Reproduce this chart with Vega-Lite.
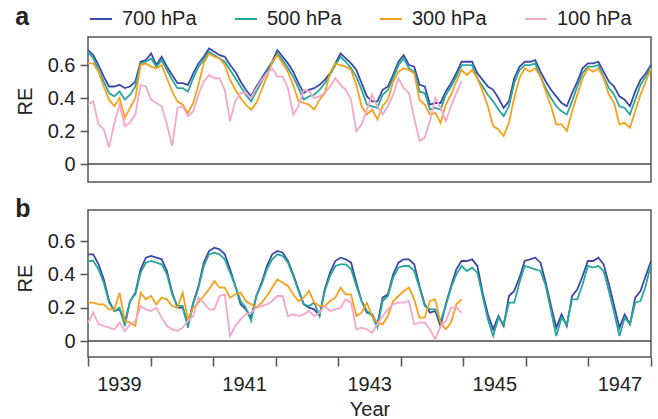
{
"$schema":"https://vega.github.io/schema/vega-lite/v6.json",
"background":"white",
"padding":{"left":14,"top":4,"right":6,"bottom":0},
"config":{
 "font":"Liberation Sans",
 "view":{"stroke":"#555","strokeWidth":1.5},
 "axis":{"labelFont":"Liberation Sans","labelFontSize":20,"labelColor":"#222","titleFont":"Liberation Sans","titleFontSize":20,"titleFontWeight":"normal","titleColor":"#222","tickColor":"#555","tickWidth":1.5,"tickSize":8,"domain":false,"grid":false},
 "legend":{"orient":"none","legendX":1,"legendY":-30,"direction":"horizontal","symbolType":"stroke","symbolSize":484,"symbolStrokeWidth":2,"labelFont":"Liberation Sans","labelFontSize":20,"labelColor":"#222","columnPadding":34,"labelOffset":9,"padding":0},
 "title":{"font":"Liberation Sans","fontSize":25,"fontWeight":"bold","color":"#222","anchor":"start","frame":"bounds","baseline":"alphabetic","offset":0}
},
"datasets":{
"a700":[{"m":0,"v":0.69},{"m":1,"v":0.66},{"m":2,"v":0.60},{"m":3,"v":0.53},{"m":4,"v":0.47},{"m":5,"v":0.47},{"m":6,"v":0.48},{"m":7,"v":0.46},{"m":8,"v":0.47},{"m":9,"v":0.50},{"m":10,"v":0.62},{"m":11,"v":0.63},{"m":12,"v":0.67},{"m":13,"v":0.60},{"m":14,"v":0.65},{"m":15,"v":0.59},{"m":16,"v":0.54},{"m":17,"v":0.49},{"m":18,"v":0.49},{"m":19,"v":0.48},{"m":20,"v":0.55},{"m":21,"v":0.61},{"m":22,"v":0.65},{"m":23,"v":0.70},{"m":24,"v":0.68},{"m":25,"v":0.66},{"m":26,"v":0.65},{"m":27,"v":0.60},{"m":28,"v":0.56},{"m":29,"v":0.50},{"m":30,"v":0.45},{"m":31,"v":0.41},{"m":32,"v":0.47},{"m":33,"v":0.52},{"m":34,"v":0.57},{"m":35,"v":0.62},{"m":36,"v":0.69},{"m":37,"v":0.65},{"m":38,"v":0.61},{"m":39,"v":0.56},{"m":40,"v":0.49},{"m":41,"v":0.43},{"m":42,"v":0.45},{"m":43,"v":0.46},{"m":44,"v":0.48},{"m":45,"v":0.51},{"m":46,"v":0.55},{"m":47,"v":0.61},{"m":48,"v":0.67},{"m":49,"v":0.64},{"m":50,"v":0.61},{"m":51,"v":0.57},{"m":52,"v":0.49},{"m":53,"v":0.41},{"m":54,"v":0.38},{"m":55,"v":0.38},{"m":56,"v":0.45},{"m":57,"v":0.47},{"m":58,"v":0.54},{"m":59,"v":0.62},{"m":60,"v":0.66},{"m":61,"v":0.60},{"m":62,"v":0.59},{"m":63,"v":0.48},{"m":64,"v":0.47},{"m":65,"v":0.36},{"m":66,"v":0.37},{"m":67,"v":0.37},{"m":68,"v":0.44},{"m":69,"v":0.49},{"m":70,"v":0.55},{"m":71,"v":0.62},{"m":72,"v":0.62},{"m":73,"v":0.62},{"m":74,"v":0.55},{"m":75,"v":0.51},{"m":76,"v":0.47},{"m":77,"v":0.45},{"m":78,"v":0.40},{"m":79,"v":0.34},{"m":80,"v":0.38},{"m":81,"v":0.52},{"m":82,"v":0.59},{"m":83,"v":0.62},{"m":84,"v":0.62},{"m":85,"v":0.63},{"m":86,"v":0.56},{"m":87,"v":0.50},{"m":88,"v":0.45},{"m":89,"v":0.41},{"m":90,"v":0.37},{"m":91,"v":0.35},{"m":92,"v":0.43},{"m":93,"v":0.50},{"m":94,"v":0.58},{"m":95,"v":0.61},{"m":96,"v":0.61},{"m":97,"v":0.62},{"m":98,"v":0.56},{"m":99,"v":0.50},{"m":100,"v":0.47},{"m":101,"v":0.41},{"m":102,"v":0.39},{"m":103,"v":0.35},{"m":104,"v":0.44},{"m":105,"v":0.51},{"m":106,"v":0.55},{"m":107,"v":0.60}],
"a500":[{"m":0,"v":0.68},{"m":1,"v":0.64},{"m":2,"v":0.57},{"m":3,"v":0.50},{"m":4,"v":0.43},{"m":5,"v":0.41},{"m":6,"v":0.44},{"m":7,"v":0.39},{"m":8,"v":0.42},{"m":9,"v":0.47},{"m":10,"v":0.61},{"m":11,"v":0.62},{"m":12,"v":0.64},{"m":13,"v":0.59},{"m":14,"v":0.63},{"m":15,"v":0.57},{"m":16,"v":0.51},{"m":17,"v":0.46},{"m":18,"v":0.46},{"m":19,"v":0.44},{"m":20,"v":0.52},{"m":21,"v":0.59},{"m":22,"v":0.63},{"m":23,"v":0.68},{"m":24,"v":0.66},{"m":25,"v":0.64},{"m":26,"v":0.62},{"m":27,"v":0.57},{"m":28,"v":0.52},{"m":29,"v":0.47},{"m":30,"v":0.42},{"m":31,"v":0.38},{"m":32,"v":0.44},{"m":33,"v":0.50},{"m":34,"v":0.56},{"m":35,"v":0.61},{"m":36,"v":0.67},{"m":37,"v":0.63},{"m":38,"v":0.58},{"m":39,"v":0.53},{"m":40,"v":0.46},{"m":41,"v":0.39},{"m":42,"v":0.41},{"m":43,"v":0.42},{"m":44,"v":0.45},{"m":45,"v":0.49},{"m":46,"v":0.54},{"m":47,"v":0.60},{"m":48,"v":0.65},{"m":49,"v":0.62},{"m":50,"v":0.58},{"m":51,"v":0.53},{"m":52,"v":0.45},{"m":53,"v":0.36},{"m":54,"v":0.35},{"m":55,"v":0.34},{"m":56,"v":0.42},{"m":57,"v":0.45},{"m":58,"v":0.52},{"m":59,"v":0.60},{"m":60,"v":0.64},{"m":61,"v":0.58},{"m":62,"v":0.56},{"m":63,"v":0.44},{"m":64,"v":0.43},{"m":65,"v":0.33},{"m":66,"v":0.34},{"m":67,"v":0.33},{"m":68,"v":0.42},{"m":69,"v":0.47},{"m":70,"v":0.53},{"m":71,"v":0.60},{"m":72,"v":0.60},{"m":73,"v":0.60},{"m":74,"v":0.52},{"m":75,"v":0.47},{"m":76,"v":0.42},{"m":77,"v":0.38},{"m":78,"v":0.33},{"m":79,"v":0.29},{"m":80,"v":0.35},{"m":81,"v":0.49},{"m":82,"v":0.57},{"m":83,"v":0.60},{"m":84,"v":0.60},{"m":85,"v":0.61},{"m":86,"v":0.53},{"m":87,"v":0.46},{"m":88,"v":0.40},{"m":89,"v":0.35},{"m":90,"v":0.32},{"m":91,"v":0.30},{"m":92,"v":0.38},{"m":93,"v":0.47},{"m":94,"v":0.55},{"m":95,"v":0.59},{"m":96,"v":0.59},{"m":97,"v":0.60},{"m":98,"v":0.53},{"m":99,"v":0.46},{"m":100,"v":0.42},{"m":101,"v":0.35},{"m":102,"v":0.34},{"m":103,"v":0.30},{"m":104,"v":0.39},{"m":105,"v":0.48},{"m":106,"v":0.53},{"m":107,"v":0.59}],
"a300":[{"m":0,"v":0.61},{"m":1,"v":0.61},{"m":2,"v":0.56},{"m":3,"v":0.47},{"m":4,"v":0.39},{"m":5,"v":0.35},{"m":6,"v":0.40},{"m":7,"v":0.28},{"m":8,"v":0.34},{"m":9,"v":0.40},{"m":10,"v":0.60},{"m":11,"v":0.61},{"m":12,"v":0.59},{"m":13,"v":0.58},{"m":14,"v":0.60},{"m":15,"v":0.52},{"m":16,"v":0.44},{"m":17,"v":0.38},{"m":18,"v":0.36},{"m":19,"v":0.31},{"m":20,"v":0.37},{"m":21,"v":0.48},{"m":22,"v":0.61},{"m":23,"v":0.67},{"m":24,"v":0.65},{"m":25,"v":0.64},{"m":26,"v":0.60},{"m":27,"v":0.51},{"m":28,"v":0.45},{"m":29,"v":0.40},{"m":30,"v":0.36},{"m":31,"v":0.33},{"m":32,"v":0.37},{"m":33,"v":0.45},{"m":34,"v":0.53},{"m":35,"v":0.62},{"m":36,"v":0.66},{"m":37,"v":0.61},{"m":38,"v":0.56},{"m":39,"v":0.48},{"m":40,"v":0.38},{"m":41,"v":0.37},{"m":42,"v":0.36},{"m":43,"v":0.33},{"m":44,"v":0.39},{"m":45,"v":0.43},{"m":46,"v":0.55},{"m":47,"v":0.61},{"m":48,"v":0.60},{"m":49,"v":0.59},{"m":50,"v":0.57},{"m":51,"v":0.48},{"m":52,"v":0.35},{"m":53,"v":0.30},{"m":54,"v":0.33},{"m":55,"v":0.27},{"m":56,"v":0.35},{"m":57,"v":0.39},{"m":58,"v":0.50},{"m":59,"v":0.56},{"m":60,"v":0.58},{"m":61,"v":0.57},{"m":62,"v":0.55},{"m":63,"v":0.39},{"m":64,"v":0.36},{"m":65,"v":0.30},{"m":66,"v":0.31},{"m":67,"v":0.25},{"m":68,"v":0.36},{"m":69,"v":0.42},{"m":70,"v":0.50},{"m":71,"v":0.57},{"m":72,"v":0.54},{"m":73,"v":0.57},{"m":74,"v":0.52},{"m":75,"v":0.44},{"m":76,"v":0.35},{"m":77,"v":0.23},{"m":78,"v":0.21},{"m":79,"v":0.17},{"m":80,"v":0.25},{"m":81,"v":0.40},{"m":82,"v":0.52},{"m":83,"v":0.58},{"m":84,"v":0.56},{"m":85,"v":0.58},{"m":86,"v":0.53},{"m":87,"v":0.44},{"m":88,"v":0.35},{"m":89,"v":0.24},{"m":90,"v":0.24},{"m":91,"v":0.20},{"m":92,"v":0.32},{"m":93,"v":0.42},{"m":94,"v":0.52},{"m":95,"v":0.58},{"m":96,"v":0.56},{"m":97,"v":0.58},{"m":98,"v":0.52},{"m":99,"v":0.42},{"m":100,"v":0.37},{"m":101,"v":0.24},{"m":102,"v":0.25},{"m":103,"v":0.22},{"m":104,"v":0.32},{"m":105,"v":0.42},{"m":106,"v":0.50},{"m":107,"v":0.58}],
"a100":[{"m":0,"v":0.36},{"m":1,"v":0.38},{"m":2,"v":0.24},{"m":3,"v":0.21},{"m":4,"v":0.10},{"m":5,"v":0.25},{"m":6,"v":0.36},{"m":7,"v":0.23},{"m":8,"v":0.25},{"m":9,"v":0.30},{"m":10,"v":0.48},{"m":11,"v":0.47},{"m":12,"v":0.39},{"m":13,"v":0.37},{"m":14,"v":0.35},{"m":15,"v":0.24},{"m":16,"v":0.11},{"m":17,"v":0.34},{"m":18,"v":0.35},{"m":19,"v":0.29},{"m":20,"v":0.32},{"m":21,"v":0.42},{"m":22,"v":0.50},{"m":23,"v":0.54},{"m":24,"v":0.52},{"m":25,"v":0.52},{"m":26,"v":0.45},{"m":27,"v":0.26},{"m":28,"v":0.38},{"m":29,"v":0.43},{"m":30,"v":0.43},{"m":31,"v":0.40},{"m":32,"v":0.46},{"m":33,"v":0.51},{"m":34,"v":0.55},{"m":35,"v":0.58},{"m":36,"v":0.53},{"m":37,"v":0.53},{"m":38,"v":0.46},{"m":39,"v":0.30},{"m":40,"v":0.35},{"m":41,"v":0.45},{"m":42,"v":0.44},{"m":43,"v":0.40},{"m":44,"v":0.41},{"m":45,"v":0.43},{"m":46,"v":0.47},{"m":47,"v":0.52},{"m":48,"v":0.48},{"m":49,"v":0.45},{"m":50,"v":0.39},{"m":51,"v":0.20},{"m":52,"v":0.24},{"m":53,"v":0.33},{"m":54,"v":0.42},{"m":55,"v":0.35},{"m":56,"v":0.30},{"m":57,"v":0.35},{"m":58,"v":0.42},{"m":59,"v":0.52},{"m":60,"v":0.46},{"m":61,"v":0.43},{"m":62,"v":0.28},{"m":63,"v":0.14},{"m":64,"v":0.16},{"m":65,"v":0.26},{"m":66,"v":0.40},{"m":67,"v":0.34},{"m":68,"v":0.26},{"m":69,"v":0.35},{"m":70,"v":0.43},{"m":71,"v":0.50}],
"b700":[{"m":0,"v":0.52},{"m":1,"v":0.52},{"m":2,"v":0.46},{"m":3,"v":0.37},{"m":4,"v":0.24},{"m":5,"v":0.18},{"m":6,"v":0.19},{"m":7,"v":0.11},{"m":8,"v":0.24},{"m":9,"v":0.29},{"m":10,"v":0.43},{"m":11,"v":0.50},{"m":12,"v":0.51},{"m":13,"v":0.50},{"m":14,"v":0.49},{"m":15,"v":0.42},{"m":16,"v":0.29},{"m":17,"v":0.20},{"m":18,"v":0.20},{"m":19,"v":0.10},{"m":20,"v":0.23},{"m":21,"v":0.33},{"m":22,"v":0.47},{"m":23,"v":0.54},{"m":24,"v":0.56},{"m":25,"v":0.55},{"m":26,"v":0.52},{"m":27,"v":0.43},{"m":28,"v":0.33},{"m":29,"v":0.22},{"m":30,"v":0.19},{"m":31,"v":0.14},{"m":32,"v":0.27},{"m":33,"v":0.35},{"m":34,"v":0.45},{"m":35,"v":0.52},{"m":36,"v":0.54},{"m":37,"v":0.53},{"m":38,"v":0.48},{"m":39,"v":0.40},{"m":40,"v":0.31},{"m":41,"v":0.22},{"m":42,"v":0.20},{"m":43,"v":0.19},{"m":44,"v":0.15},{"m":45,"v":0.31},{"m":46,"v":0.41},{"m":47,"v":0.48},{"m":48,"v":0.50},{"m":49,"v":0.49},{"m":50,"v":0.47},{"m":51,"v":0.35},{"m":52,"v":0.24},{"m":53,"v":0.17},{"m":54,"v":0.16},{"m":55,"v":0.10},{"m":56,"v":0.26},{"m":57,"v":0.28},{"m":58,"v":0.40},{"m":59,"v":0.47},{"m":60,"v":0.49},{"m":61,"v":0.49},{"m":62,"v":0.46},{"m":63,"v":0.33},{"m":64,"v":0.22},{"m":65,"v":0.17},{"m":66,"v":0.18},{"m":67,"v":0.09},{"m":68,"v":0.22},{"m":69,"v":0.33},{"m":70,"v":0.43},{"m":71,"v":0.48},{"m":72,"v":0.48},{"m":73,"v":0.49},{"m":74,"v":0.45},{"m":75,"v":0.29},{"m":76,"v":0.16},{"m":77,"v":0.07},{"m":78,"v":0.15},{"m":79,"v":0.09},{"m":80,"v":0.27},{"m":81,"v":0.30},{"m":82,"v":0.38},{"m":83,"v":0.48},{"m":84,"v":0.49},{"m":85,"v":0.50},{"m":86,"v":0.47},{"m":87,"v":0.35},{"m":88,"v":0.21},{"m":89,"v":0.08},{"m":90,"v":0.16},{"m":91,"v":0.09},{"m":92,"v":0.27},{"m":93,"v":0.31},{"m":94,"v":0.39},{"m":95,"v":0.48},{"m":96,"v":0.48},{"m":97,"v":0.50},{"m":98,"v":0.46},{"m":99,"v":0.34},{"m":100,"v":0.21},{"m":101,"v":0.08},{"m":102,"v":0.16},{"m":103,"v":0.10},{"m":104,"v":0.26},{"m":105,"v":0.30},{"m":106,"v":0.39},{"m":107,"v":0.48}],
"b500":[{"m":0,"v":0.48},{"m":1,"v":0.48},{"m":2,"v":0.43},{"m":3,"v":0.35},{"m":4,"v":0.23},{"m":5,"v":0.18},{"m":6,"v":0.20},{"m":7,"v":0.09},{"m":8,"v":0.24},{"m":9,"v":0.28},{"m":10,"v":0.41},{"m":11,"v":0.47},{"m":12,"v":0.48},{"m":13,"v":0.47},{"m":14,"v":0.46},{"m":15,"v":0.40},{"m":16,"v":0.28},{"m":17,"v":0.21},{"m":18,"v":0.21},{"m":19,"v":0.08},{"m":20,"v":0.22},{"m":21,"v":0.32},{"m":22,"v":0.45},{"m":23,"v":0.52},{"m":24,"v":0.53},{"m":25,"v":0.52},{"m":26,"v":0.49},{"m":27,"v":0.41},{"m":28,"v":0.33},{"m":29,"v":0.24},{"m":30,"v":0.20},{"m":31,"v":0.12},{"m":32,"v":0.27},{"m":33,"v":0.34},{"m":34,"v":0.43},{"m":35,"v":0.49},{"m":36,"v":0.52},{"m":37,"v":0.51},{"m":38,"v":0.47},{"m":39,"v":0.39},{"m":40,"v":0.30},{"m":41,"v":0.22},{"m":42,"v":0.21},{"m":43,"v":0.23},{"m":44,"v":0.15},{"m":45,"v":0.30},{"m":46,"v":0.39},{"m":47,"v":0.45},{"m":48,"v":0.46},{"m":49,"v":0.46},{"m":50,"v":0.43},{"m":51,"v":0.33},{"m":52,"v":0.24},{"m":53,"v":0.18},{"m":54,"v":0.15},{"m":55,"v":0.08},{"m":56,"v":0.24},{"m":57,"v":0.27},{"m":58,"v":0.38},{"m":59,"v":0.44},{"m":60,"v":0.45},{"m":61,"v":0.45},{"m":62,"v":0.42},{"m":63,"v":0.32},{"m":64,"v":0.21},{"m":65,"v":0.19},{"m":66,"v":0.19},{"m":67,"v":0.12},{"m":68,"v":0.21},{"m":69,"v":0.32},{"m":70,"v":0.40},{"m":71,"v":0.45},{"m":72,"v":0.42},{"m":73,"v":0.44},{"m":74,"v":0.41},{"m":75,"v":0.27},{"m":76,"v":0.13},{"m":77,"v":0.03},{"m":78,"v":0.14},{"m":79,"v":0.10},{"m":80,"v":0.23},{"m":81,"v":0.23},{"m":82,"v":0.35},{"m":83,"v":0.45},{"m":84,"v":0.44},{"m":85,"v":0.43},{"m":86,"v":0.42},{"m":87,"v":0.33},{"m":88,"v":0.18},{"m":89,"v":0.03},{"m":90,"v":0.14},{"m":91,"v":0.10},{"m":92,"v":0.25},{"m":93,"v":0.25},{"m":94,"v":0.34},{"m":95,"v":0.45},{"m":96,"v":0.44},{"m":97,"v":0.45},{"m":98,"v":0.42},{"m":99,"v":0.30},{"m":100,"v":0.17},{"m":101,"v":0.03},{"m":102,"v":0.14},{"m":103,"v":0.10},{"m":104,"v":0.23},{"m":105,"v":0.24},{"m":106,"v":0.33},{"m":107,"v":0.46}],
"b300":[{"m":0,"v":0.23},{"m":1,"v":0.23},{"m":2,"v":0.22},{"m":3,"v":0.22},{"m":4,"v":0.19},{"m":5,"v":0.19},{"m":6,"v":0.29},{"m":7,"v":0.12},{"m":8,"v":0.11},{"m":9,"v":0.09},{"m":10,"v":0.29},{"m":11,"v":0.25},{"m":12,"v":0.27},{"m":13,"v":0.22},{"m":14,"v":0.26},{"m":15,"v":0.25},{"m":16,"v":0.21},{"m":17,"v":0.20},{"m":18,"v":0.29},{"m":19,"v":0.13},{"m":20,"v":0.20},{"m":21,"v":0.23},{"m":22,"v":0.27},{"m":23,"v":0.31},{"m":24,"v":0.36},{"m":25,"v":0.32},{"m":26,"v":0.32},{"m":27,"v":0.26},{"m":28,"v":0.28},{"m":29,"v":0.29},{"m":30,"v":0.24},{"m":31,"v":0.22},{"m":32,"v":0.20},{"m":33,"v":0.23},{"m":34,"v":0.27},{"m":35,"v":0.32},{"m":36,"v":0.37},{"m":37,"v":0.35},{"m":38,"v":0.33},{"m":39,"v":0.28},{"m":40,"v":0.24},{"m":41,"v":0.26},{"m":42,"v":0.30},{"m":43,"v":0.23},{"m":44,"v":0.21},{"m":45,"v":0.21},{"m":46,"v":0.24},{"m":47,"v":0.26},{"m":48,"v":0.32},{"m":49,"v":0.28},{"m":50,"v":0.28},{"m":51,"v":0.15},{"m":52,"v":0.17},{"m":53,"v":0.23},{"m":54,"v":0.15},{"m":55,"v":0.11},{"m":56,"v":0.10},{"m":57,"v":0.15},{"m":58,"v":0.24},{"m":59,"v":0.27},{"m":60,"v":0.30},{"m":61,"v":0.32},{"m":62,"v":0.25},{"m":63,"v":0.14},{"m":64,"v":0.14},{"m":65,"v":0.24},{"m":66,"v":0.25},{"m":67,"v":0.11},{"m":68,"v":0.07},{"m":69,"v":0.11},{"m":70,"v":0.22},{"m":71,"v":0.25}],
"b100":[{"m":0,"v":0.11},{"m":1,"v":0.17},{"m":2,"v":0.10},{"m":3,"v":0.09},{"m":4,"v":0.08},{"m":5,"v":0.07},{"m":6,"v":0.11},{"m":7,"v":0.06},{"m":8,"v":0.10},{"m":9,"v":0.12},{"m":10,"v":0.21},{"m":11,"v":0.19},{"m":12,"v":0.18},{"m":13,"v":0.20},{"m":14,"v":0.14},{"m":15,"v":0.09},{"m":16,"v":0.07},{"m":17,"v":0.06},{"m":18,"v":0.08},{"m":19,"v":0.12},{"m":20,"v":0.15},{"m":21,"v":0.26},{"m":22,"v":0.23},{"m":23,"v":0.19},{"m":24,"v":0.19},{"m":25,"v":0.27},{"m":26,"v":0.28},{"m":27,"v":0.03},{"m":28,"v":0.09},{"m":29,"v":0.13},{"m":30,"v":0.16},{"m":31,"v":0.17},{"m":32,"v":0.20},{"m":33,"v":0.21},{"m":34,"v":0.22},{"m":35,"v":0.24},{"m":36,"v":0.27},{"m":37,"v":0.27},{"m":38,"v":0.15},{"m":39,"v":0.16},{"m":40,"v":0.15},{"m":41,"v":0.16},{"m":42,"v":0.18},{"m":43,"v":0.15},{"m":44,"v":0.17},{"m":45,"v":0.21},{"m":46,"v":0.18},{"m":47,"v":0.19},{"m":48,"v":0.20},{"m":49,"v":0.25},{"m":50,"v":0.23},{"m":51,"v":0.07},{"m":52,"v":0.08},{"m":53,"v":0.07},{"m":54,"v":0.05},{"m":55,"v":0.10},{"m":56,"v":0.15},{"m":57,"v":0.19},{"m":58,"v":0.22},{"m":59,"v":0.23},{"m":60,"v":0.23},{"m":61,"v":0.24},{"m":62,"v":0.10},{"m":63,"v":0.11},{"m":64,"v":0.11},{"m":65,"v":0.07},{"m":66,"v":0.01},{"m":67,"v":0.09},{"m":68,"v":0.12},{"m":69,"v":0.20},{"m":70,"v":0.20},{"m":71,"v":0.17}]
},
"spacing":13,
"resolve":{"legend":{"color":"independent"}},
"vconcat":[
{
 "width":563,"height":145,
 "title":{"text":"a","dy":27},
 "layer":[
  {"data":{"values":[{"v":0}]},"mark":{"type":"rule","color":"#444","strokeWidth":1.5},
   "encoding":{"y":{"field":"v","type":"quantitative","scale":{"domain":[-0.109,0.77],"nice":false,"zero":false},"axis":{"values":[0,0.2,0.4,0.6],"format":".1~f","title":"RE","titlePadding":12,"labelPadding":5,"titleY":64}}}},
  {"encoding":{
    "x":{"field":"m","type":"quantitative","scale":{"domain":[0,107],"nice":false,"zero":false},"axis":null},
    "y":{"field":"v","type":"quantitative","scale":{"domain":[-0.109,0.77],"nice":false,"zero":false},"axis":{"values":[0,0.2,0.4,0.6],"format":".1~f","title":"RE","titlePadding":12,"labelPadding":5,"titleY":64}}},
   "layer":[
    {"data":{"name":"a700"},"mark":{"type":"line","strokeWidth":1.8},"encoding":{"color":{"datum":"700 hPa","type":"nominal","scale":{"domain":["700 hPa","500 hPa","300 hPa","100 hPa"],"range":["#3a4aa6","#27a89b","#f6a11c","#f4a6cb"]},"legend":{"title":null}}}},
    {"data":{"name":"a500"},"mark":{"type":"line","strokeWidth":1.8},"encoding":{"color":{"datum":"500 hPa","type":"nominal","scale":{"domain":["700 hPa","500 hPa","300 hPa","100 hPa"],"range":["#3a4aa6","#27a89b","#f6a11c","#f4a6cb"]},"legend":{"title":null}}}},
    {"data":{"name":"a300"},"mark":{"type":"line","strokeWidth":1.8},"encoding":{"color":{"datum":"300 hPa","type":"nominal","scale":{"domain":["700 hPa","500 hPa","300 hPa","100 hPa"],"range":["#3a4aa6","#27a89b","#f6a11c","#f4a6cb"]},"legend":{"title":null}}}},
    {"data":{"name":"a100"},"mark":{"type":"line","strokeWidth":1.8},"encoding":{"color":{"datum":"100 hPa","type":"nominal","scale":{"domain":["700 hPa","500 hPa","300 hPa","100 hPa"],"range":["#3a4aa6","#27a89b","#f6a11c","#f4a6cb"]},"legend":{"title":null}}}}
   ]}
 ]
},
{
 "width":563,"height":147,
 "title":{"text":"b","dy":16},
 "layer":[
  {"data":{"values":[{"v":0}]},"mark":{"type":"rule","color":"#444","strokeWidth":1.5},
   "encoding":{"y":{"field":"v","type":"quantitative","scale":{"domain":[-0.096,0.786],"nice":false,"zero":false},"axis":{"values":[0,0.2,0.4,0.6],"format":".1~f","title":"RE","titlePadding":12,"labelPadding":5,"titleY":68}}}},
  {"encoding":{
    "x":{"field":"m","type":"quantitative","scale":{"domain":[0,107],"nice":false,"zero":false},"axis":{"values":[0,11.889,23.778,35.667,47.556,59.444,71.333,83.222,95.111,107],"labelExpr":"(round(datum.value/11.889) % 2 == 0 && datum.value < 100) ? '' + (1939 + round(datum.value/11.889)) : ''","labelOffset":31,"labelOverlap":false,"labelBound":false,"labelFlush":false,"labelPadding":8,"tickSize":9,"title":"Year","titlePadding":5}},
    "y":{"field":"v","type":"quantitative","scale":{"domain":[-0.096,0.786],"nice":false,"zero":false},"axis":{"values":[0,0.2,0.4,0.6],"format":".1~f","title":"RE","titlePadding":12,"labelPadding":5,"titleY":68}}},
   "layer":[
    {"data":{"name":"b700"},"mark":{"type":"line","strokeWidth":1.8},"encoding":{"color":{"datum":"700 hPa","type":"nominal","scale":{"domain":["700 hPa","500 hPa","300 hPa","100 hPa"],"range":["#3a4aa6","#27a89b","#f6a11c","#f4a6cb"]},"legend":null}}},
    {"data":{"name":"b500"},"mark":{"type":"line","strokeWidth":1.8},"encoding":{"color":{"datum":"500 hPa","type":"nominal","scale":{"domain":["700 hPa","500 hPa","300 hPa","100 hPa"],"range":["#3a4aa6","#27a89b","#f6a11c","#f4a6cb"]},"legend":null}}},
    {"data":{"name":"b300"},"mark":{"type":"line","strokeWidth":1.8},"encoding":{"color":{"datum":"300 hPa","type":"nominal","scale":{"domain":["700 hPa","500 hPa","300 hPa","100 hPa"],"range":["#3a4aa6","#27a89b","#f6a11c","#f4a6cb"]},"legend":null}}},
    {"data":{"name":"b100"},"mark":{"type":"line","strokeWidth":1.8},"encoding":{"color":{"datum":"100 hPa","type":"nominal","scale":{"domain":["700 hPa","500 hPa","300 hPa","100 hPa"],"range":["#3a4aa6","#27a89b","#f6a11c","#f4a6cb"]},"legend":null}}}
   ]}
 ]
}
]
}
